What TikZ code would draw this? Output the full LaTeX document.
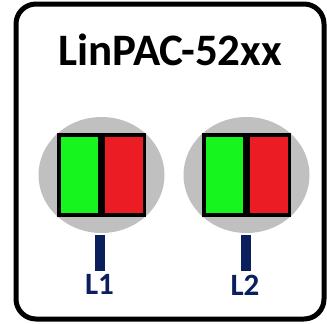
\documentclass[tikz,border=0pt]{standalone}
\usepackage{fontspec}
\setmainfont{Carlito}
\usepackage{xcolor}
\usetikzlibrary{shapes.geometric, positioning, calc}

\definecolor{ledgreen}{HTML}{16F51E}
\definecolor{ledred}{HTML}{EC1C24}
\definecolor{ledgray}{HTML}{C0C0C0}
\definecolor{portblue}{HTML}{0B1F5C}

\begin{document}
\begin{tikzpicture}[
    x=1pt, y=-1pt,
    frame/.style={draw, line width=5pt, rounded corners=20pt},
    socket/.style={ellipse, fill=ledgray, minimum width=126pt, minimum height=116pt, inner sep=0pt},
    half/.style={rectangle, draw, line width=3.5pt, minimum width=41pt, minimum height=80pt, inner sep=0pt},
    title/.style={font=\bfseries\fontsize{45}{45}\selectfont},
    portlabel/.style={font=\bfseries\fontsize{31}{31}\selectfont, text=portblue, inner sep=0pt, anchor=north},
    bar/.style={draw=portblue, line width=10pt}
  ]
    \useasboundingbox (0,0) rectangle (327,324);

    % Frame
    \draw[frame] (16,4) rectangle (324,319);

    % Title
    \node[title] (name) at (170,50) {LinPAC-52xx};

    % Sockets
    \node[socket] (sock1) at (101.5,175) {};
    \node[socket] (sock2) at (246.5,175) {};

    % LEDs
    \node[half, fill=ledgreen, anchor=east] (green1) at (sock1.center) {};
    \node[half, fill=ledred, anchor=west] (red1) at (sock1.center) {};
    \node[half, fill=ledgreen, anchor=east] (green2) at (sock2.center) {};
    \node[half, fill=ledred, anchor=west] (red2) at (sock2.center) {};

    % Labels
    \node[portlabel] (l1) at (99.5,274.5) {L1};
    \node[portlabel] (l2) at (245,274.5) {L2};

    % Bars
    \draw[bar] ($(sock1.south)+(-1.5,2)$) -- ($(l1.north)+(0.5,-4)$);
    \draw[bar] ($(sock2.south)+(-1,2)$) -- ($(l2.north)+(0.5,-4)$);

  \end{tikzpicture}
\end{document}
